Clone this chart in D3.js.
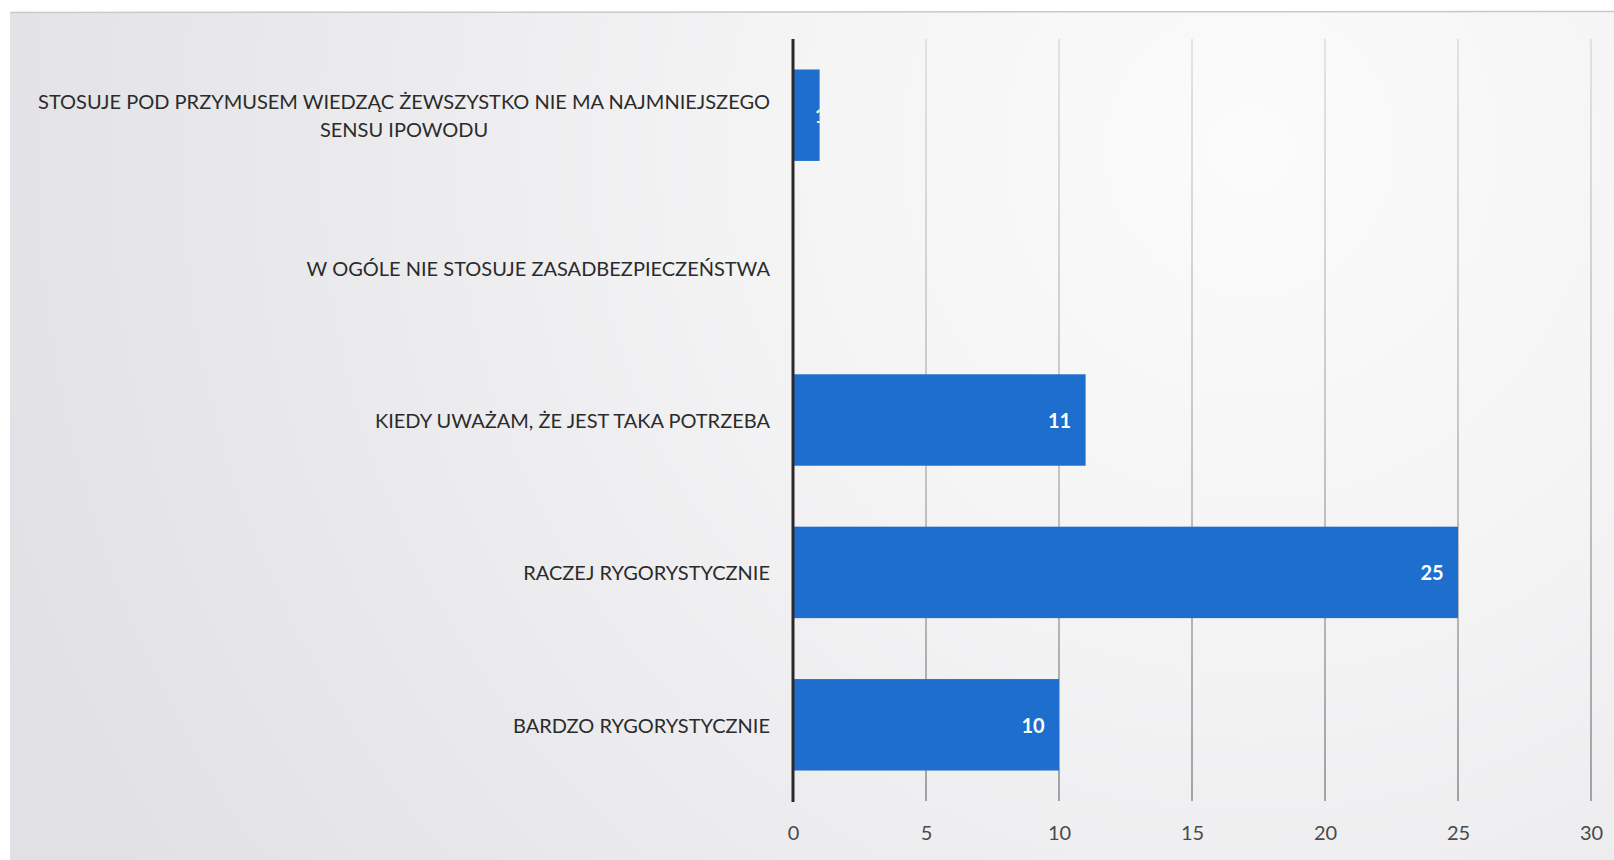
<!DOCTYPE html>
<html>
<head>
<meta charset="utf-8">
<script src="https://cdn.jsdelivr.net/npm/d3@7/dist/d3.min.js"></script>
<style>
  html, body { margin: 0; padding: 0; background: #ffffff; }
  svg { display: block; }
</style>
</head>
<body>
<svg id="chart" width="1614" height="860"></svg>
<script>
// Survey answers (top to bottom) and their counts
const categories = [
  ["STOSUJE POD PRZYMUSEM WIEDZĄC ŻEWSZYSTKO NIE MA NAJMNIEJSZEGO", "SENSU IPOWODU"],
  ["W OGÓLE NIE STOSUJE ZASADBEZPIECZEŃSTWA"],
  ["KIEDY UWAŻAM, ŻE JEST TAKA POTRZEBA"],
  ["RACZEJ RYGORYSTYCZNIE"],
  ["BARDZO RYGORYSTYCZNIE"]
];
const values = [1, 0, 11, 25, 10];
const xTicks = [0, 5, 10, 15, 20, 25, 30];

const W = 1614, H = 860;
const svg = d3.select("#chart");
const font = "Lato, 'Open Sans', sans-serif";

// paper background
const defs = svg.append("defs");
const bg = defs.append("radialGradient").attr("id", "paper")
  .attr("gradientUnits", "userSpaceOnUse")
  .attr("cx", 1250).attr("cy", 150).attr("r", 1350);
bg.append("stop").attr("offset", "0").attr("stop-color", "#fbfbfb");
bg.append("stop").attr("offset", "0.35").attr("stop-color", "#f4f4f5");
bg.append("stop").attr("offset", "0.75").attr("stop-color", "#e8e7ea");
bg.append("stop").attr("offset", "1").attr("stop-color", "#e1e0e4");

svg.append("rect").attr("x", 10).attr("y", 12).attr("width", W - 10).attr("height", H - 12)
  .attr("fill", "url(#paper)");
svg.append("line").attr("x1", 10).attr("x2", W).attr("y1", 12.5).attr("y2", 11.5)
  .attr("stroke", "#c9c9cb").attr("stroke-width", 1.5);

const margin = { left: 793, right: 23, top: 39, bottom: 59 };
const x = d3.scaleLinear().domain([0, 30]).range([793, 1591]);
const y = d3.scaleBand().domain(d3.range(categories.length))
  .range([margin.top, H - margin.bottom]).paddingInner(0.4).paddingOuter(0.2);

// vertical gridlines
const grid = defs.append("linearGradient").attr("id", "gridFade")
  .attr("gradientUnits", "userSpaceOnUse")
  .attr("x1", 0).attr("y1", margin.top).attr("x2", 0).attr("y2", H - margin.bottom);
grid.append("stop").attr("offset", "0").attr("stop-color", "#d4d4d6");
grid.append("stop").attr("offset", "0.5").attr("stop-color", "#a9a9ab");
grid.append("stop").attr("offset", "1").attr("stop-color", "#6e6e70");

svg.append("g").selectAll("line").data(xTicks.filter(d => d > 0)).join("line")
  .attr("x1", d => x(d)).attr("x2", d => x(d))
  .attr("y1", margin.top).attr("y2", H - margin.bottom)
  .attr("stroke", "url(#gridFade)").attr("stroke-width", 1.2);

// bars
svg.append("g").selectAll("rect").data(values).join("rect")
  .attr("x", x(0)).attr("y", (d, i) => y(i))
  .attr("width", d => x(d) - x(0)).attr("height", y.bandwidth())
  .attr("fill", "#1e6ecd");

// value labels inside the bar end (clipped to the bar)
values.forEach((v, i) => {
  if (v <= 0) return;
  const w = x(v) - x(0);
  const cid = "clip" + i;
  defs.append("clipPath").attr("id", cid).append("rect")
    .attr("x", x(0)).attr("y", y(i)).attr("width", w).attr("height", y.bandwidth());
  const cx = w > 52 ? x(v) - 26 : x(v) + 1;
  svg.append("text").attr("clip-path", `url(#${cid})`)
    .attr("x", cx).attr("y", y(i) + y.bandwidth() / 2)
    .attr("text-anchor", "middle").attr("dominant-baseline", "central")
    .attr("font-family", font).attr("font-weight", "bold").attr("font-size", 20)
    .attr("fill", "#ffffff").text(v);
});

// category labels, right-aligned block with centred lines
const labelRight = x(0) - 23;
const lineGap = 28;
categories.forEach((lines, i) => {
  const cy = y(i) + y.bandwidth() / 2;
  const g = svg.append("g");
  const texts = lines.map((s, k) => g.append("text")
    .attr("y", cy + (k - (lines.length - 1) / 2) * lineGap)
    .attr("dominant-baseline", "central")
    .attr("font-family", font).attr("font-size", 20).attr("fill", "#2b2b2b")
    .text(s));
  const widths = texts.map(t => t.node().getComputedTextLength());
  const maxW = d3.max(widths);
  texts.forEach(t => t.attr("text-anchor", "middle").attr("x", labelRight - maxW / 2));
});

// x axis
const axis = d3.axisBottom(x).tickValues(xTicks).tickSize(0).tickPadding(0);
const ax = svg.append("g").attr("transform", `translate(0, ${H - margin.bottom})`).call(axis);
ax.select(".domain").remove();
ax.selectAll("text").attr("dy", null).attr("y", 31).attr("dominant-baseline", "central")
  .attr("font-family", font).attr("font-size", 20).attr("fill", "#4a4a4a");

// category axis line
svg.append("line").attr("x1", x(0)).attr("x2", x(0))
  .attr("y1", margin.top).attr("y2", H - margin.bottom + 1)
  .attr("stroke", "#2a2a2a").attr("stroke-width", 3);
</script>
</body>
</html>
